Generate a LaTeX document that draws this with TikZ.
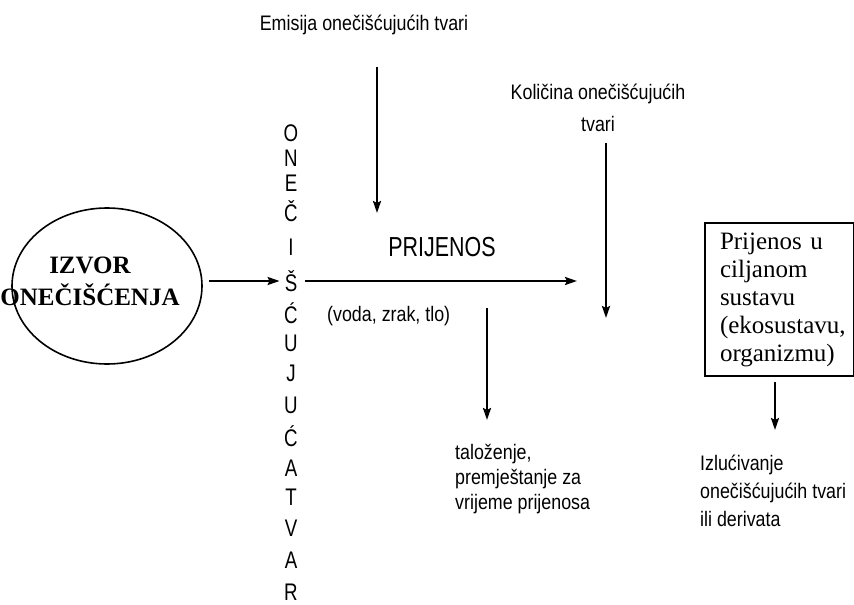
\documentclass[tikz,border=0pt]{standalone}
\usepackage{fontspec}
\setmainfont{Liberation Serif}
\setsansfont{Liberation Sans}
\newfontfamily\uska[FakeStretch=0.85]{Liberation Sans}
\newfontfamily\uzja[FakeStretch=0.78]{Liberation Sans}
\usetikzlibrary{arrows.meta,shapes.geometric}

\begin{document}
\begin{tikzpicture}[x=1pt,y=-1pt,
	txt/.style = {font=\uska\fontsize{21}{25}\selectfont, inner sep=0pt},
	slovo/.style = {font=\uzja\fontsize{24}{24}\selectfont, inner sep=0pt},
	strelica/.style = {line width=2.2pt, -{Stealth[length=12pt,width=8pt,inset=2pt]}}
	]
  \useasboundingbox (0,0) rectangle (854,605);
  % izvor
  \node [draw, ellipse, line width=1.6pt, minimum width=190, minimum height=156, inner sep=0pt] (izvor) at (107,286) {};
  \node [font=\bfseries\fontsize{25}{32}\selectfont, align=center, inner sep=0pt] (izvorTxt) at (90,281) {IZVOR\\ONEČIŠĆENJA};
  % okomiti natpis
  \foreach \slovo/\y [count=\i] in {O/133,N/158,E/183,Č/211,I/247,Š/281,Ć/313,U/343,J/373,U/405,Ć/436,A/468,T/497,V/528,A/560,R/592}
    \node [slovo] (l\i) at (291,\y) {\slovo};
  % tekstovi
  \node [txt] (emisija) at (364,25) {Emisija onečišćujućih tvari};
  \node [txt, font=\uzja\fontsize{27.5}{27.5}\selectfont] (prijenos) at (442,247) {PRIJENOS};
  \node [txt, anchor=west] (medij) at (327,316) {(voda, zrak, tlo)};
  \node [txt, align=center, font=\uska\fontsize{21}{32}\selectfont] (kolicina) at (598,108) {Količina onečišćujućih\\tvari};
  \node [txt, align=left, anchor=north west] (talozenje) at (455,444) {taloženje,\\premještanje za\\vrijeme prijenosa};
  \node [draw, line width=2pt, anchor=north west, minimum width=149, minimum height=153, inner xsep=15pt, text width=119, align=left,
	font=\fontsize{25}{28}\selectfont] (cilj) at (704,222) {Prijenos u\\ciljanom\\sustavu\\(ekosustavu,\\organizmu)};
  \node [txt, align=left, anchor=north west, font=\uska\fontsize{21}{28}\selectfont] (izlucivanje) at (700,455) {Izlućivanje\\onečišćujućih tvari\\ili derivata};
  % krajevi strelica
  \coordinate (emisijaPoc) at (377,67);
  \coordinate (emisijaKraj) at (377,213);
  \coordinate (kolicinaPoc) at (606,143);
  \coordinate (kolicinaKraj) at (606,318);
  \coordinate (prijenosKraj) at (577,281);
  \coordinate (talozPoc) at (487,308);
  \coordinate (talozKraj) at (487,420);
  \coordinate (ciljKraj) at (775,430);
  % strelice
  \draw [strelica, shorten <=6pt, shorten >=5pt] (izvor.east |- l6) -- (l6.west);
  \draw [strelica, shorten <=8pt] (l6.east) -- (prijenosKraj);
  \draw [strelica] (emisijaPoc) -- (emisijaKraj);
  \draw [strelica] (kolicinaPoc) -- (kolicinaKraj);
  \draw [strelica] (talozPoc) -- (talozKraj);
  \draw [strelica, shorten <=5pt] (cilj.south -| ciljKraj) -- (ciljKraj);
\end{tikzpicture}
\end{document}
